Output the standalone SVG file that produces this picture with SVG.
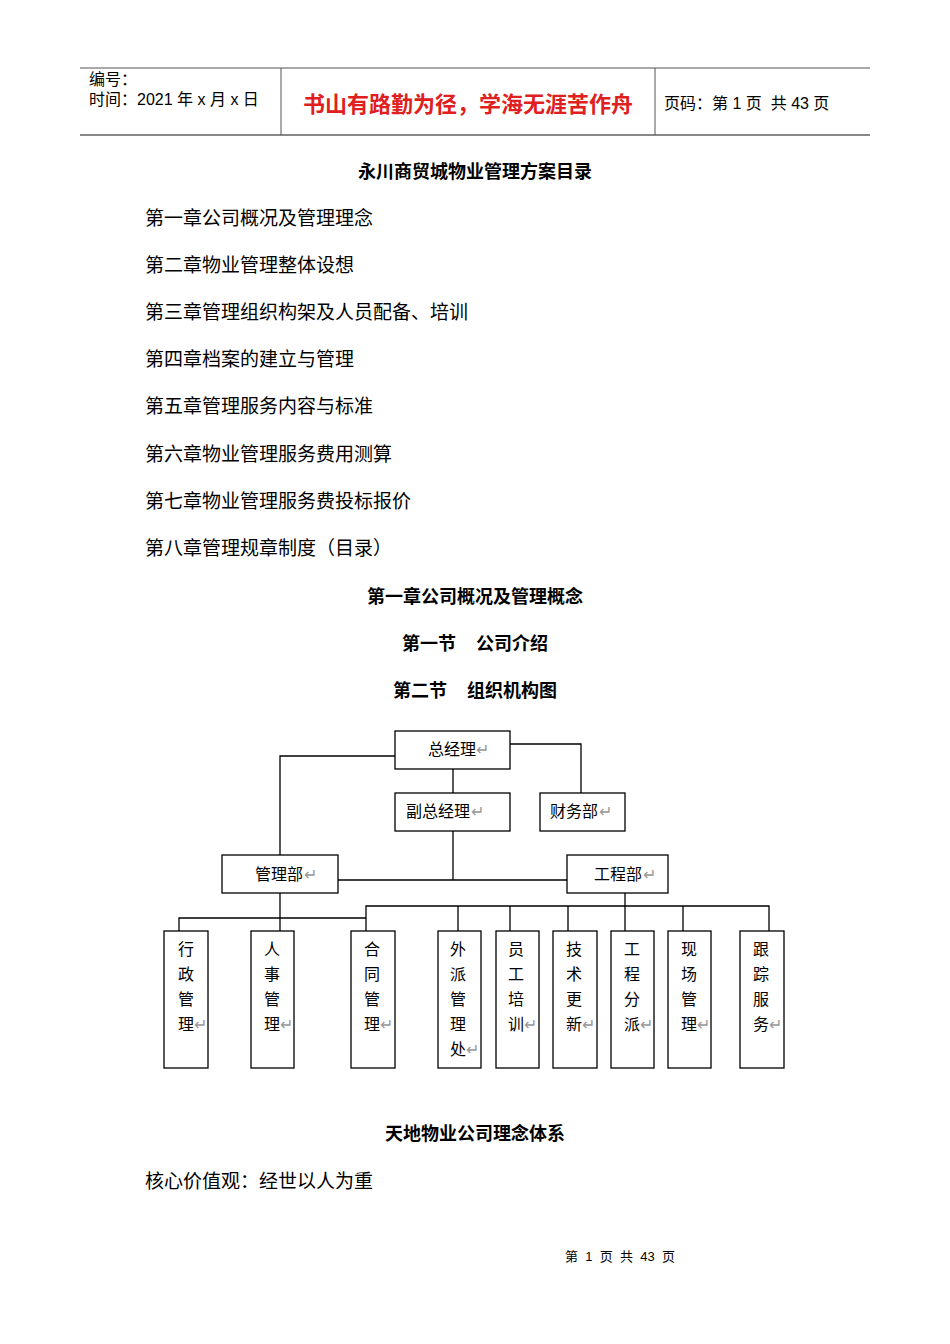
<svg xmlns="http://www.w3.org/2000/svg" width="950" height="1344" viewBox="0 0 950 1344">
<style>
text{font-family:"Liberation Sans","Noto Sans CJK SC",sans-serif;fill:#000;white-space:pre}
.h{font-size:16px}
.t{font-size:19px}
.b{font-size:18px;font-weight:bold;text-anchor:middle}
.n rect{fill:#fff;stroke:#000;stroke-width:1.3}
.n text{font-size:16px}
.r{font-size:10px;fill:#999}
#connectors path{fill:none;stroke:#000;stroke-width:1.3}
</style>
<rect width="950" height="1344" fill="#fff"/>
<g id="header">
<line x1="80" y1="68" x2="870" y2="68" stroke="#555" stroke-width="1"/>
<line x1="80" y1="135" x2="870" y2="135" stroke="#888" stroke-width="2"/>
<line x1="281" y1="68" x2="281" y2="135" stroke="#555"/>
<line x1="655" y1="68" x2="655" y2="135" stroke="#555"/>
<text x="89" y="85" class="h">编号：</text>
<text x="89" y="105" class="h">时间：2021 年 x 月 x 日</text>
<text x="468" y="112" text-anchor="middle" style="font-size:22px;font-weight:bold;fill:#e02020">书山有路勤为径，学海无涯苦作舟</text>
<text x="664" y="109" class="h">页码：第 1 页  共 43 页</text>
</g>
<text x="475" y="178" class="b">永川商贸城物业管理方案目录</text>
<text x="145" y="225" class="t">第一章公司概况及管理理念</text>
<text x="145" y="272" class="t">第二章物业管理整体设想</text>
<text x="145" y="319" class="t">第三章管理组织构架及人员配备、培训</text>
<text x="145" y="366" class="t">第四章档案的建立与管理</text>
<text x="145" y="413" class="t">第五章管理服务内容与标准</text>
<text x="145" y="461" class="t">第六章物业管理服务费用测算</text>
<text x="145" y="508" class="t">第七章物业管理服务费投标报价</text>
<text x="145" y="555" class="t">第八章管理规章制度（目录）</text>
<text x="475" y="603" class="b">第一章公司概况及管理概念</text>
<text x="475" y="650" class="b">第一节    公司介绍</text>
<text x="475" y="697" class="b">第二节    组织机构图</text>
<g id="connectors">
<path d="M395 756H280V855"/>
<path d="M510 744H581V793"/>
<path d="M453 769V793"/>
<path d="M453 831V880"/>
<path d="M338 880H567"/>
<path d="M280 893V931"/>
<path d="M179 931V918H366"/>
<path d="M366 931V906H769V931"/>
<path d="M625 893V931"/>
<path d="M458 906V931M510 906V931M568 906V931M683 906V931"/>
</g>
<g class="n" id="n-zjl"><rect x="395" y="731" width="115" height="38"/><text x="428" y="755">总经理</text><text x="476" y="755" class="r">↵</text></g>
<g class="n" id="n-fzjl"><rect x="395" y="793" width="115" height="38"/><text x="406" y="817">副总经理</text><text x="471" y="817" class="r">↵</text></g>
<g class="n" id="n-cwb"><rect x="540" y="793" width="85" height="38"/><text x="550" y="817">财务部</text><text x="599" y="817" class="r">↵</text></g>
<g class="n" id="n-glb"><rect x="222" y="855" width="116" height="38"/><text x="255" y="880">管理部</text><text x="304" y="880" class="r">↵</text></g>
<g class="n" id="n-gcb"><rect x="567" y="855" width="101" height="38"/><text x="594" y="880">工程部</text><text x="643" y="880" class="r">↵</text></g>
<g class="n" id="n1"><rect x="164" y="931" width="44" height="137"/><text x="178" y="955">行</text><text x="178" y="980">政</text><text x="178" y="1005">管</text><text x="178" y="1030">理</text><text x="194" y="1030" class="r">↵</text></g>
<g class="n" id="n2"><rect x="251" y="931" width="43" height="137"/><text x="264" y="955">人</text><text x="264" y="980">事</text><text x="264" y="1005">管</text><text x="264" y="1030">理</text><text x="280" y="1030" class="r">↵</text></g>
<g class="n" id="n3"><rect x="351" y="931" width="44" height="137"/><text x="364" y="955">合</text><text x="364" y="980">同</text><text x="364" y="1005">管</text><text x="364" y="1030">理</text><text x="380" y="1030" class="r">↵</text></g>
<g class="n" id="n4"><rect x="438" y="931" width="43" height="137"/><text x="450" y="955">外</text><text x="450" y="980">派</text><text x="450" y="1005">管</text><text x="450" y="1030">理</text><text x="450" y="1055">处</text><text x="466" y="1055" class="r">↵</text></g>
<g class="n" id="n5"><rect x="496" y="931" width="43" height="137"/><text x="508" y="955">员</text><text x="508" y="980">工</text><text x="508" y="1005">培</text><text x="508" y="1030">训</text><text x="524" y="1030" class="r">↵</text></g>
<g class="n" id="n6"><rect x="553" y="931" width="44" height="137"/><text x="566" y="955">技</text><text x="566" y="980">术</text><text x="566" y="1005">更</text><text x="566" y="1030">新</text><text x="582" y="1030" class="r">↵</text></g>
<g class="n" id="n7"><rect x="611" y="931" width="43" height="137"/><text x="624" y="955">工</text><text x="624" y="980">程</text><text x="624" y="1005">分</text><text x="624" y="1030">派</text><text x="640" y="1030" class="r">↵</text></g>
<g class="n" id="n8"><rect x="668" y="931" width="43" height="137"/><text x="681" y="955">现</text><text x="681" y="980">场</text><text x="681" y="1005">管</text><text x="681" y="1030">理</text><text x="697" y="1030" class="r">↵</text></g>
<g class="n" id="n9"><rect x="740" y="931" width="44" height="137"/><text x="753" y="955">跟</text><text x="753" y="980">踪</text><text x="753" y="1005">服</text><text x="753" y="1030">务</text><text x="769" y="1030" class="r">↵</text></g>
<text x="475" y="1140" class="b">天地物业公司理念体系</text>
<text x="145" y="1188" class="t">核心价值观：经世以人为重</text>
<text x="620" y="1261" text-anchor="middle" style="font-size:13px">第  1  页  共  43  页</text>
</svg>
